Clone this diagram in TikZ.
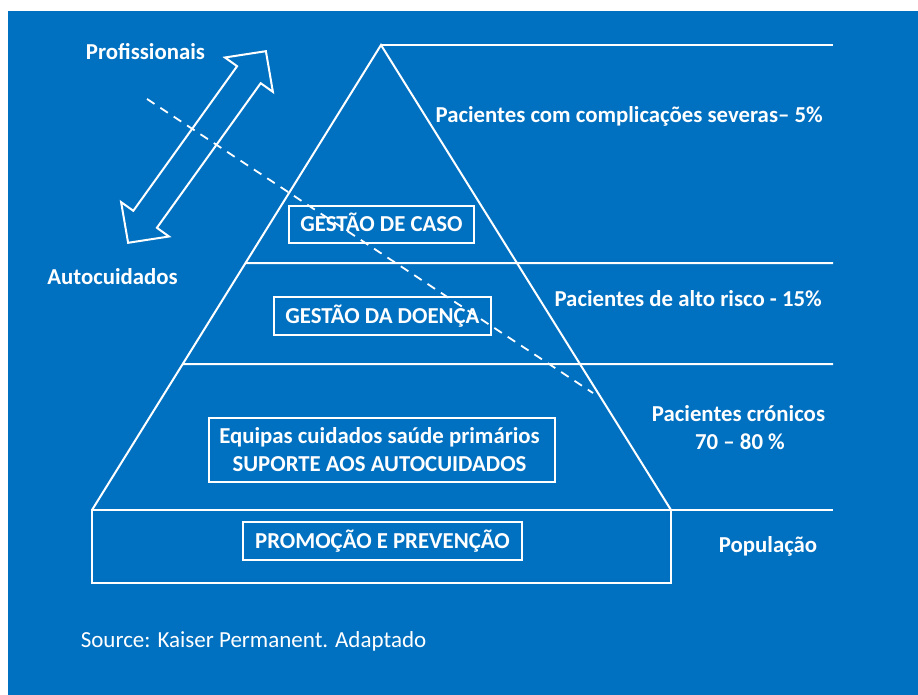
\documentclass[tikz,border=0pt]{standalone}
\usepackage{fontspec}
\setmainfont{Carlito}
\usetikzlibrary{calc}
\definecolor{bg}{HTML}{0070C0}
\begin{document}
\begin{tikzpicture}[x=1pt,y=-1pt,
  wl/.style={draw=white,line width=2pt},
  lbl/.style={text=white,font=\fontsize{22.8}{27}\selectfont\bfseries,inner sep=0pt,anchor=base},
  boxl/.style={draw=white,line width=2pt,text=white,font=\fontsize{22.8}{27}\selectfont\bfseries,inner sep=0pt,text height=14.5pt,text depth=0pt},
  dashl/.style={draw=white,line width=1.8pt,dash pattern=on 9pt off 7pt}
]
\useasboundingbox (0,0) rectangle (918,695);
\fill[white] (0,0) rectangle (918,695);
\fill[bg] (8,11) rectangle (918,695);

% pyramid
\coordinate (apex) at (381,45);
\coordinate (bl) at (92,510);
\coordinate (br) at (671,510);
\coordinate (r1) at (833,45);
\coordinate (r2) at (833,263);
\coordinate (r3) at (833,364);
\coordinate (r4) at (833,510);
\coordinate (basebr) at (671,583);
\draw[wl] (bl) -- (apex) -- (br);
\draw[wl] (bl) rectangle (basebr);
\draw[wl] (apex) -- (r1);
\draw[wl] ($(apex)!0.46882!(bl)$) -- (r2);
\draw[wl] ($(apex)!0.68602!(bl)$) -- (r3);
\draw[wl] (br) -- (r4);

% double arrow
\draw[wl,line join=miter] (265.9,51.2) -- (272.9,91.9) -- (260.7,83.2) -- (156.9,227.8)
  -- (169.0,236.5) -- (128.1,242.8) -- (121.1,202.1) -- (133.3,210.8)
  -- (237.1,66.2) -- (224.95,57.5) -- cycle;

% labels
\node[lbl] (prof) at (145.5,60) {Profissionais};
\node[lbl] (auto) at (112.5,284) {Autocuidados};
\node[lbl,anchor=base east] (p5) at (823,123) {Pacientes com complicações severas– 5\%};
\node[lbl,anchor=base east] (p15) at (822,306) {Pacientes de alto risco - 15\%};
\node[lbl] (pc) at (738.5,421) {Pacientes crónicos};
\node[lbl] (pc2) at (740,449) {70 – 80 \%};
\node[lbl] (pop) at (768,552) {População};
\node[lbl,font=\fontsize{23}{28}\selectfont] (src) at (253.5,647) {Source: Kaiser Permanent. Adaptado};

% boxes
\node[boxl,minimum width=185pt,minimum height=37pt] (caso) at (381.5,224.5) {GESTÃO DE CASO};
\node[boxl,minimum width=217pt,minimum height=38pt] (doenca) at (382.5,316) {GESTÃO DA DOENÇA};
\node[boxl,minimum width=346pt,minimum height=64pt] (equipas) at (381.5,449.5) {};
\node[lbl] (eq1) at (379.5,443) {Equipas cuidados saúde primários};
\node[lbl] (eq2) at (379.5,471) {SUPORTE AOS AUTOCUIDADOS};
\node[boxl,minimum width=279pt,minimum height=38pt] (promo) at (382.5,541) {PROMOÇÃO E PREVENÇÃO};

% dashed line
\coordinate (d1) at (147,99);
\coordinate (d2) at (593,393);
\draw[dashl] (d1) -- (d2);
\end{tikzpicture}
\end{document}
